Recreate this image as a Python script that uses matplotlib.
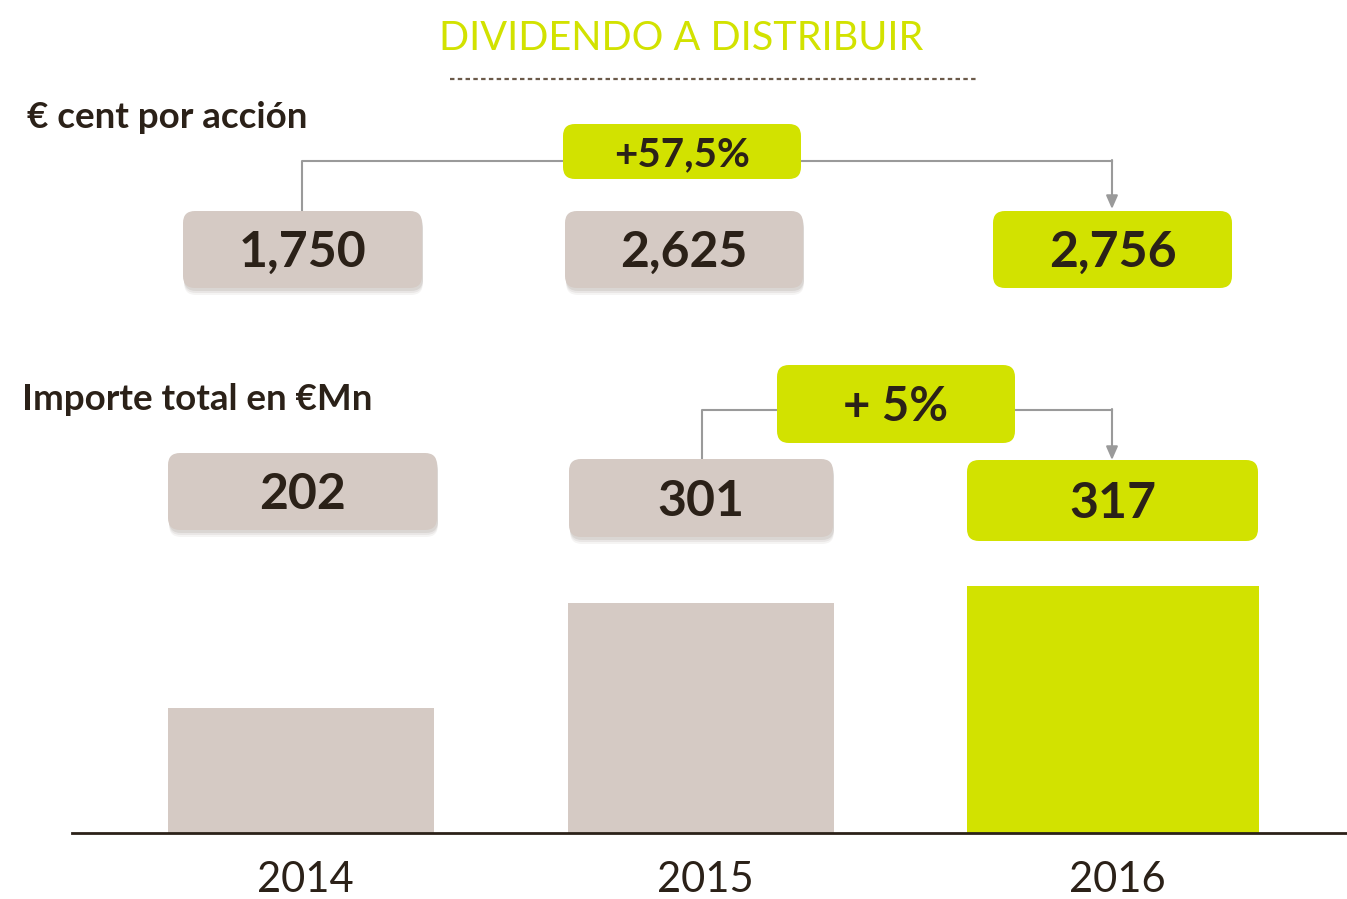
import matplotlib
matplotlib.use("Agg")
import matplotlib.pyplot as plt
from matplotlib.patches import FancyBboxPatch

# data
years = ["2014", "2015", "2016"]
dividend_cents = [1.750, 2.625, 2.756]    # € cent por acción
total_mn = [202, 301, 317]                # importe total en €Mn
growth_labels = ["+57,5%", "+ 5%"]

GREEN = "#D2E200"
GREY = "#D5CAC4"
DARK = "#2B2118"
LINE = "#9A9A9A"
plt.rcParams['font.family'] = ['Lato', 'DejaVu Sans']

W, H = 1347, 899
fig = plt.figure(figsize=(W / 100, H / 100), dpi=100)

# bar chart in the lower part
axb = fig.add_axes([72 / W, (H - 833) / H, 1 - 72 / W, 273 / H])
colors = [GREY, GREY, GREEN]
widths = [0.655, 0.655, 0.72]
xpos = [0, 0.985, 2.0]
axb.bar(xpos, total_mn, width=widths, color=colors, zorder=1)
axb.set_xlim(-0.564, 2.576)
axb.set_ylim(84, 84 + 273 / 1.058)
for s in ["top", "left", "right"]:
    axb.spines[s].set_visible(False)
axb.spines["bottom"].set_color(DARK)
axb.spines["bottom"].set_linewidth(2)
axb.spines["bottom"].set_zorder(3)
axb.set_yticks([])
axb.set_xticks([x + 0.01 for x in xpos])
axb.set_xticklabels(years, fontsize=30, color=DARK)
axb.tick_params(axis="x", length=0, pad=20)

# overlay in pixel coordinates
ax = fig.add_axes([0, 0, 1, 1])
ax.set_xlim(0, W)
ax.set_ylim(H, 0)
ax.axis("off")

ax.text(681, 38, "DIVIDENDO A DISTRIBUIR", color=GREEN, fontsize=28.5,
        ha="center", va="center")
ax.plot([450, 978], [79, 79], color="#6B5A4A", lw=1.6, ls=(0, (2, 1.5)))

ax.text(27, 118, "€ cent por acción", color=DARK, fontsize=26.5,
        fontweight="bold", ha="left", va="center")
ax.text(22, 399, "Importe total en €Mn", color=DARK, fontsize=26.5,
        fontweight="bold", ha="left", va="center")


def box(x0, y0, x1, y1, fc, label, fs, shadow):
    if shadow:
        for i, a in enumerate([0.10, 0.08, 0.06]):
            ax.add_patch(FancyBboxPatch((x0 + 1, y0 + 3 + i * 2), x1 - x0, y1 - y0,
                                        boxstyle="round,pad=0,rounding_size=12",
                                        fc="#5A4A40", ec="none", alpha=a, zorder=2))
    ax.add_patch(FancyBboxPatch((x0, y0), x1 - x0, y1 - y0,
                                boxstyle="round,pad=0,rounding_size=12",
                                fc=fc, ec="none", zorder=3))
    ax.text((x0 + x1) / 2, (y0 + y1) / 2 + 3, label, color=DARK, fontsize=fs,
            fontweight="bold", ha="center", va="center", zorder=4)


def fmt(v):
    return f"{v:.3f}".replace(".", ",")


# per-share row
top_boxes = [(183, 211, 422, 288), (565, 211, 803, 288), (993, 211, 1232, 288)]
for i, (b, v) in enumerate(zip(top_boxes, dividend_cents)):
    box(*b, colors[i], fmt(v), 36, i < 2)

# connector 2014 -> 2016
ax.plot([302, 302, 563], [210, 161, 161], color=LINE, lw=1.5, zorder=1)
ax.plot([801, 1112], [161, 161], color=LINE, lw=1.5, zorder=1)
ax.annotate("", xy=(1112, 209), xytext=(1112, 160),
            arrowprops=dict(arrowstyle="-|>,head_length=0.8,head_width=0.35",
                            color=LINE, lw=1.5, shrinkA=0, shrinkB=0))
box(563, 124, 801, 179, GREEN, growth_labels[0], 29, False)

# total row
mid_boxes = [(168, 453, 437, 530), (569, 459, 833, 537), (967, 460, 1258, 541)]
for i, (b, v) in enumerate(zip(mid_boxes, total_mn)):
    box(*b, colors[i], str(v), 36, i < 2)

ax.plot([702, 702, 777], [458, 410, 410], color=LINE, lw=1.5, zorder=1)
ax.plot([1015, 1112], [410, 410], color=LINE, lw=1.5, zorder=1)
ax.annotate("", xy=(1112, 460), xytext=(1112, 409),
            arrowprops=dict(arrowstyle="-|>,head_length=0.8,head_width=0.35",
                            color=LINE, lw=1.5, shrinkA=0, shrinkB=0))
box(777, 365, 1015, 443, GREEN, growth_labels[1], 34, False)

fig.savefig("out.png", dpi=100)
